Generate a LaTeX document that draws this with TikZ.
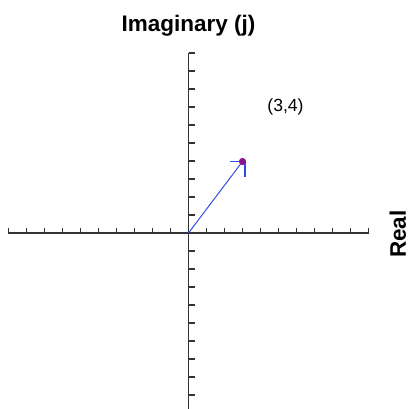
\documentclass[tikz,border=0pt]{standalone}
\usepackage{fontspec}
\setmainfont{Liberation Sans}
\usetikzlibrary{positioning}
\definecolor{vecblue}{RGB}{45,75,235}
\definecolor{dotpurple}{RGB}{135,20,140}
\tikzset{
  axisline/.style={draw=black!80, line width=0.95pt},
  tickmark/.style={draw=black!80, line width=0.85pt},
  vecline/.style={draw=vecblue, line width=0.7pt},
  headline/.style={draw=vecblue, line width=1pt},
  axislab/.style={font=\fontsize{16}{19}\selectfont\bfseries, inner sep=0pt},
  ptlab/.style={font=\fontsize{12.5}{15}\selectfont, inner sep=0pt},
}
\begin{document}
\begin{tikzpicture}[x=0.025cm, y=-0.025cm]
  \useasboundingbox (0,0) rectangle (410,409);
  \coordinate (O) at (188.5,233);
  \coordinate (xl) at (8.5,233);
  \coordinate (xr) at (368.5,233);
  \coordinate (yt) at (188.5,53);
  \coordinate (yb) at (188.5,409);
  % axes and ticks
  \draw[axisline] (xl) -- (xr);
  \draw[axisline] (yt) -- (yb);
  \foreach \i in {-10,...,10} \draw[tickmark] (188.5+18*\i,233) -- ++(0,-5);
  \foreach \i in {-9,...,10} \draw[tickmark] (188.5,233-18*\i) -- ++(6,0);
  % the vector to (3,4)
  \coordinate (tip) at (242.5,161.5);
  \coordinate (ha) at (230,161.5);
  \coordinate (hc) at (245,161.5);
  \coordinate (hb) at (245,176.5);
  \draw[vecline] (O) -- (tip);
  \draw[headline] (ha) -- (hc) -- (hb);
  \node[circle, fill=dotpurple, inner sep=0pt, minimum size=0.18cm] (pt) at (tip) {};
  \node[axislab, anchor=base] (imlab) at (188.5,31.7) {Imaginary (j)};
  \node[ptlab, anchor=base] (ptlabel) at (285.5,111.5) {(3,4)};
  \node[axislab, rotate=90, anchor=base] (relab) at (406,234) {Real};
\end{tikzpicture}
\end{document}
